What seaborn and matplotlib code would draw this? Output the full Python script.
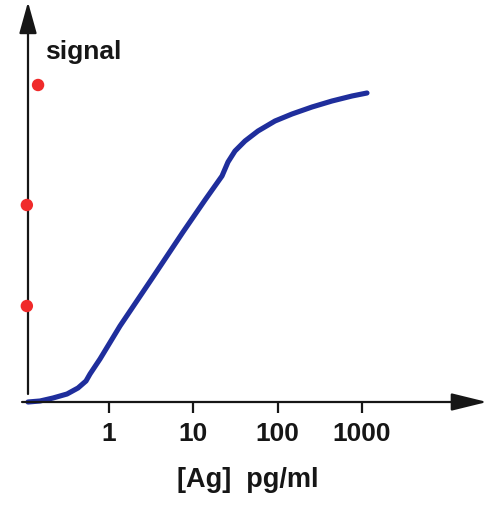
import seaborn as sns
import matplotlib.pyplot as plt

# antigen concentration (pg/ml) and signal
conc = [0.1094, 0.1519, 0.2167, 0.3177, 0.4286, 0.5336, 0.5951, 0.7818,
        1.350, 3.326, 7.55, 13.77, 21.90, 25.80, 31.24, 41.05, 58.56,
        93.15, 148.2, 255.9, 441.8, 763.1, 1149]
signal = [0, 1, 4, 8, 14, 21, 28, 43, 76, 125, 170, 202, 226, 240, 251,
          261, 271, 281, 288, 295, 301, 306, 309]

# red markers on the signal axis
dot_conc = [0.144, 0.106, 0.106]
dot_signal = [317, 197, 96]

tick_values = [1, 10, 100, 1000]
tick_labels = ["1", "10", "100", "1000"]

sns.set_style("white")
plt.rcParams["font.family"] = ["Liberation Sans", "DejaVu Sans"]

fig = plt.figure(figsize=(4.94, 5.06), dpi=100)
ax = fig.add_axes([28 / 494, 103 / 506, 459 / 494, 400 / 506])

sns.lineplot(x=conc, y=signal, ax=ax, color="#1f2e9c", linewidth=3.7,
             estimator=None, sort=False)
line = ax.lines[-1]
line.set_solid_capstyle("round")
line.set_solid_joinstyle("round")
line.set_clip_on(False)

sns.scatterplot(x=dot_conc, y=dot_signal, ax=ax, color="#f02a2a", s=80,
                edgecolor="none", zorder=5)
ax.collections[-1].set_clip_on(False)

ax.set_xscale("log")
ax.set_xlim(0.1094, 30480)
ax.set_ylim(0, 400)

for side in ["top", "right", "left", "bottom"]:
    ax.spines[side].set_visible(False)

axis_color = "#161616"
# axes with arrowheads
ax.annotate("", xy=(1, 0), xytext=(-0.013, 0), xycoords="axes fraction",
            arrowprops=dict(arrowstyle="-|>,head_length=1.1,head_width=0.27",
                            color=axis_color, lw=1.6, mutation_scale=20,
                            shrinkA=0, shrinkB=0))
ax.annotate("", xy=(0, 1), xytext=(0, 0.02), xycoords="axes fraction",
            arrowprops=dict(arrowstyle="-|>,head_length=0.97,head_width=0.27",
                            color=axis_color, lw=1.6, mutation_scale=20,
                            shrinkA=0, shrinkB=0))

ax.set_xticks(tick_values)
ax.set_xticklabels(tick_labels)
ax.minorticks_off()
ax.set_yticks([])
ax.tick_params(axis="x", direction="out", length=8, width=1.6,
               color=axis_color, pad=6, labelsize=19, labelcolor=axis_color,
               bottom=True)
for lbl in ax.get_xticklabels():
    lbl.set_fontweight("bold")

ax.set_xlabel("[Ag]  pg/ml", fontsize=19.5, fontweight="bold", color=axis_color)
ax.xaxis.label.set_va("center")
ax.xaxis.set_label_coords(0.479, -0.1925)

ax.text(0.037, 0.8775, "signal", transform=ax.transAxes, ha="left",
        va="center", fontsize=19, fontweight="bold", color=axis_color)

fig.savefig("out.png", dpi=100, facecolor="white")
